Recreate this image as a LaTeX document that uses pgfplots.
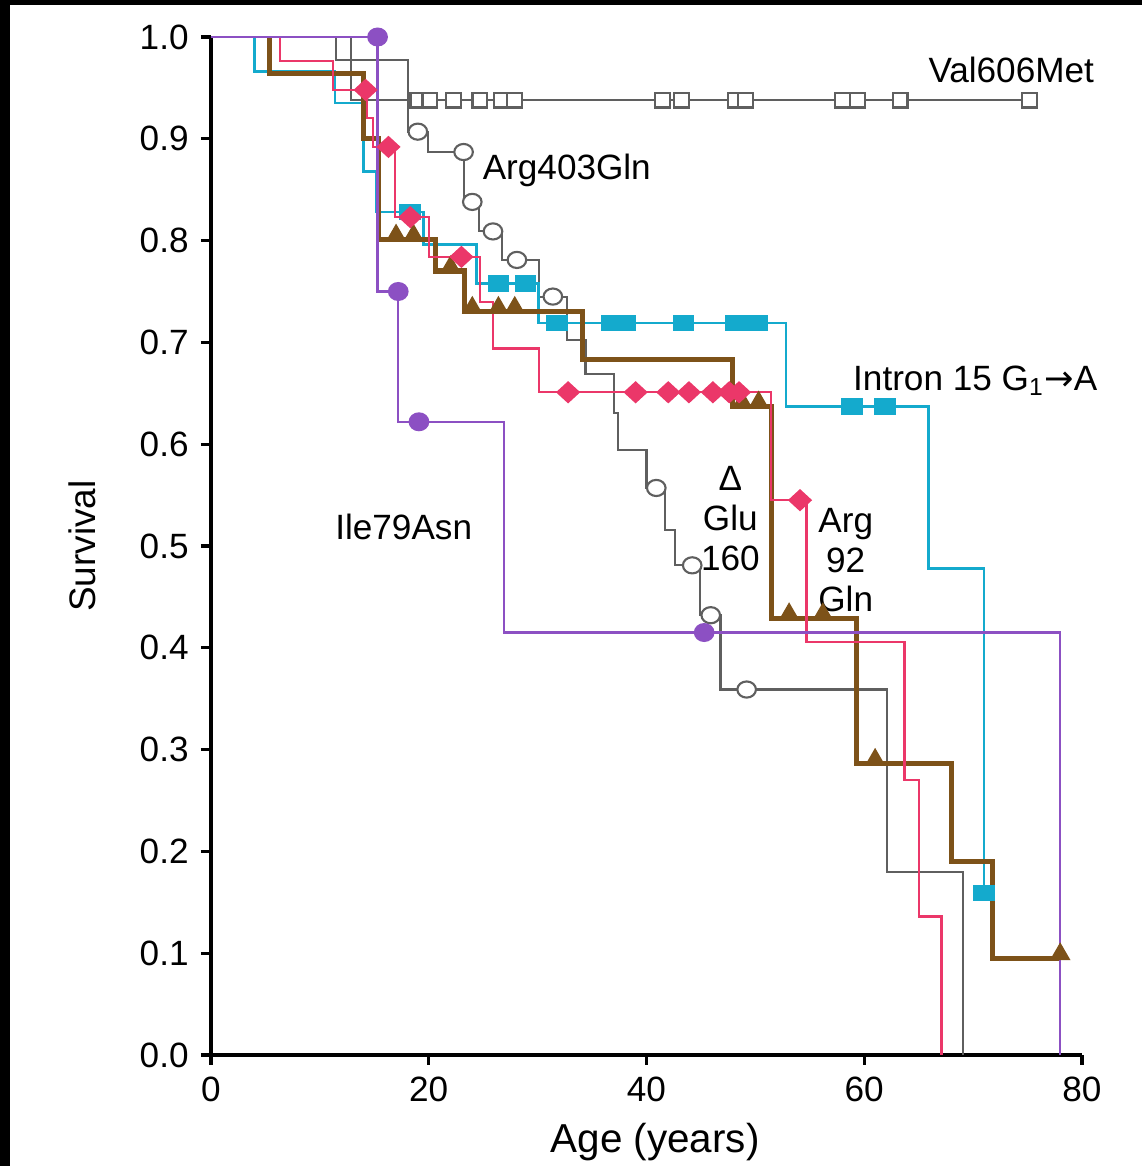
\documentclass[border=0pt]{standalone}
\usepackage{pgfplots}
\pgfplotsset{compat=1.18}
\usepackage{fontspec}
\setmainfont{Liberation Sans}
\newfontfamily\dejavu{DejaVu Sans}

\definecolor{kmgray}{RGB}{95,95,95}
\definecolor{kmpurple}{RGB}{140,80,195}
\definecolor{kmcyan}{RGB}{20,170,205}
\definecolor{kmred}{RGB}{235,55,105}
\definecolor{kmbrown}{RGB}{125,82,25}

\begin{document}
\begin{tikzpicture}
\useasboundingbox (0,0) rectangle (11.42cm,11.66cm);
\fill[black] (0,0) rectangle (0.10cm,11.66cm);
\fill[black] (0,11.61cm) rectangle (11.42cm,11.66cm);
\begin{axis}[
    at={(2.11cm,1.11cm)}, anchor=south west,
    scale only axis, width=8.71cm, height=10.18cm,
    xmin=0, xmax=80, ymin=0, ymax=1,
    axis lines*=left,
    axis line style={line width=0.9pt, black},
    xtick={0,20,40,60,80},
    ytick={0,0.1,0.2,0.3,0.4,0.5,0.6,0.7,0.8,0.9,1.0},
    yticklabel style={/pgf/number format/.cd, fixed, fixed zerofill, precision=1},
    /pgf/number format/assume math mode=true,
    tick align=outside, major tick length=0.1cm,
    tick style={line width=0.9pt, black},
    ticklabel style={font=\fontsize{10}{12}\selectfont},
    xlabel={Age (years)}, ylabel={Survival},
    x label style={at={(axis description cs:0.51,-0.086)}, anchor=center, font=\fontsize{11.5}{13}\selectfont},
    y label style={at={(axis description cs:-0.148,0.5)}, anchor=center, font=\fontsize{10.5}{12}\selectfont},
    clip=false,
]
% Val606Met
\addplot[kmgray, line width=0.6pt, const plot] coordinates {(0,1) (12.9,0.938) (75.2,0.938)};
\addplot[only marks, mark=square*, mark size=2.1pt, mark options={fill=white, draw=kmgray, line width=0.6pt}]
  coordinates {(19.0,0.938) (20.1,0.938) (22.3,0.938) (24.7,0.938) (26.7,0.938) (27.9,0.938)
               (41.5,0.938) (43.2,0.938) (48.2,0.938) (49.1,0.938) (58.0,0.938) (59.4,0.938)
               (63.3,0.938) (75.2,0.938)};
% Arg403Gln
\addplot[kmgray, line width=0.6pt, const plot] coordinates {
  (0,1) (11.5,0.977) (18.1,0.907) (19.9,0.887) (23.2,0.838) (24.6,0.809) (26.7,0.781)
  (30.1,0.745) (32.7,0.702) (34.4,0.669) (37.0,0.631) (37.4,0.594) (40.0,0.557)
  (41.7,0.516) (42.6,0.481) (44.9,0.432) (46.8,0.359) (62.1,0.180) (69.1,0)};
\addplot[only marks, mark=*, mark size=2.3pt, mark options={fill=white, draw=kmgray, line width=0.6pt, xscale=1.15}]
  coordinates {(19.0,0.907) (23.2,0.887) (24.0,0.838) (25.9,0.809) (28.1,0.781) (31.4,0.745)
               (40.9,0.557) (44.2,0.481) (45.9,0.432) (49.2,0.359)};
% Intron 15 G1->A
\addplot[kmcyan, line width=0.7pt, const plot] coordinates {
  (0,1) (4.0,0.966) (11.4,0.935) (14.0,0.868) (15.2,0.828) (19.5,0.796) (24.4,0.758)
  (30.1,0.719) (52.8,0.637) (65.9,0.478) (71.0,0.159)};
\addplot[only marks, mark=square*, mark size=2.4pt, mark options={fill=kmcyan, draw=kmcyan, xscale=1.2, yscale=0.9}]
  coordinates {(18.3,0.828) (26.4,0.758) (28.9,0.758) (31.8,0.719) (36.8,0.719) (38.0,0.719)
               (43.4,0.719) (48.2,0.719) (50.2,0.719) (58.9,0.637) (61.9,0.637) (71.0,0.159)};
% Delta Glu160
\addplot[kmbrown, line width=1.5pt, const plot] coordinates {
  (5.4,1) (5.4,0.964) (14.0,0.900) (15.4,0.801) (20.6,0.770) (23.3,0.730) (34.1,0.683)
  (47.9,0.637) (51.5,0.429) (59.3,0.286) (68.0,0.190) (71.8,0.095) (78.0,0.095)};
\addplot[only marks, mark=triangle*, mark size=3pt, mark options={fill=kmbrown, draw=kmbrown}]
  coordinates {(17.0,0.805) (18.6,0.805) (22.0,0.774) (24.0,0.734) (26.4,0.734) (27.9,0.734)
               (48.8,0.641) (50.3,0.641) (53.1,0.433) (56.2,0.433) (61.0,0.290) (78.0,0.099)};
% Arg92Gln
\addplot[kmred, line width=0.6pt, const plot] coordinates {
  (0,1) (6.3,0.976) (11.2,0.948) (14.3,0.920) (14.9,0.892) (16.9,0.823) (20.0,0.784)
  (24.7,0.740) (25.9,0.694) (30.1,0.651) (51.4,0.545) (54.7,0.406) (63.7,0.270)
  (65.0,0.136) (67.1,0)};
\addplot[only marks, mark=diamond*, mark size=2.9pt, mark options={fill=kmred, draw=kmred, xscale=1.45}]
  coordinates {(14.2,0.948) (16.3,0.892) (18.3,0.823) (23.0,0.784) (32.8,0.651) (39.0,0.651)
               (42.0,0.651) (43.9,0.651) (46.1,0.651) (47.6,0.651) (48.5,0.651) (54.1,0.545)};
% Ile79Asn
\addplot[kmpurple, line width=0.7pt, const plot] coordinates {
  (0,1) (15.3,0.750) (17.2,0.622) (26.9,0.415) (78.0,0)};
\addplot[only marks, mark=*, mark size=2.5pt, mark options={fill=kmpurple, draw=kmpurple, xscale=1.1}]
  coordinates {(15.3,1.0) (17.2,0.750) (19.1,0.622) (45.3,0.415)};

\begin{scope}[every node/.style={font=\fontsize{10}{9.8}\selectfont, inner sep=0pt}]
\node at (axis cs:73.5,0.968) {Val606Met};
\node[anchor=west] at (axis cs:24.9,0.869) {Arg403Gln};
\node at (axis cs:70.2,0.662) {Intron 15 G\textsubscript{1}{\dejavu →}A};
\node at (axis cs:17.7,0.519) {Ile79Asn};
\node[align=center] at (axis cs:47.7,0.527) {Δ\\[1.5pt]Glu\\[1.5pt]160};
\node[align=center] at (axis cs:58.3,0.486) {Arg\\[1.5pt]92\\[1.5pt]Gln};
\end{scope}
\end{axis}
\end{tikzpicture}
\end{document}
